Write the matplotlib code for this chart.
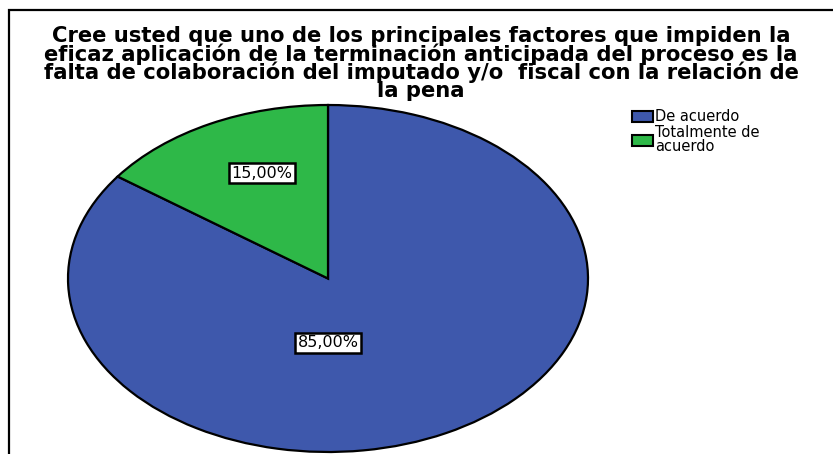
import matplotlib
matplotlib.use("Agg")
import matplotlib.pyplot as plt
from matplotlib.patches import Rectangle, Patch

categories = ["De acuerdo", "Totalmente de\nacuerdo"]
values = [85.0, 15.0]
colors = ["#3E58AC", "#2EB848"]
title = ("Cree usted que uno de los principales factores que impiden la\n"
         "eficaz aplicación de la terminación anticipada del proceso es la\n"
         "falta de colaboración del imputado y/o  fiscal con la relación de\n"
         "la pena")

W, H = 833, 454
fig = plt.figure(figsize=(W / 100, H / 100), dpi=100)
fig.patch.set_facecolor("white")

# outer frame (extends beyond right/bottom edges)
fig.patches.append(Rectangle((9 / W, -0.1), 1.2, (H - 10) / H + 0.1,
                             transform=fig.transFigure, fill=False,
                             edgecolor="black", linewidth=1.6))

# pie axes (stretched horizontally)
x0, x1 = 68, 588
ytop, ybot = 105, 452
ax = fig.add_axes([x0 / W, (H - ybot) / H, (x1 - x0) / W, (ybot - ytop) / H])
wedges, _ = ax.pie(values, colors=colors, startangle=90, counterclock=False,
                   wedgeprops=dict(edgecolor="black", linewidth=1.6),
                   radius=1.0)
ax.set_aspect("auto")
ax.set_xlim(-1.0, 1.0)
ax.set_ylim(-1.0, 1.0)
ax.axis("off")

label_pos = [(0.0, -0.37), (-0.254, 0.608)]
for v, (lx, ly) in zip(values, label_pos):
    ax.text(lx, ly, f"{v:.2f}%".replace(".", ","), ha="center", va="center",
            fontsize=11.5, family="DejaVu Sans", color="black",
            bbox=dict(boxstyle="square,pad=0.15", facecolor="white",
                      edgecolor="black", linewidth=1.8))

fig.text(421 / W, 1 - 26 / H, title, ha="center", va="top",
         fontsize=15.2, fontweight="bold", family="DejaVu Sans",
         linespacing=0.84, color="black")

handles = [Patch(facecolor=c, edgecolor="black", linewidth=1.5) for c in colors]
fig.legend(handles, categories, loc="upper left",
           bbox_to_anchor=(625 / W, 1 - 102 / H), frameon=False,
           handlelength=1.45, handleheight=0.75,
           handletextpad=0.12, labelspacing=0.05, borderpad=0.0,
           prop=dict(family="DejaVu Sans", size=10.5))
for t in fig.legends[0].get_texts():
    t.set_linespacing(0.88)

fig.savefig("out.png", dpi=100, facecolor="white")
